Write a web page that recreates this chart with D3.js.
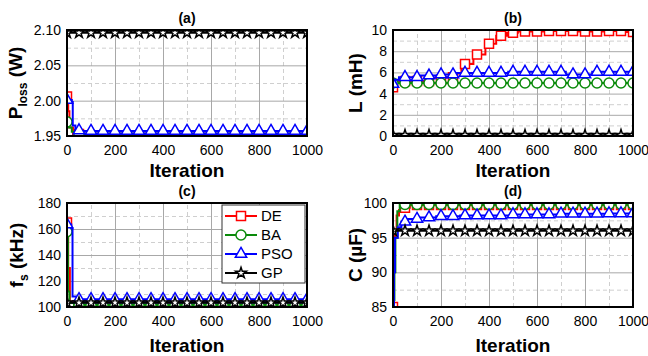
<!DOCTYPE html>
<html>
<head>
<meta charset="utf-8">
<script src="https://cdn.jsdelivr.net/npm/d3@7"></script>
<style>
  body { margin: 0; background: #fff; }
  svg { display: block; font-family: "Liberation Sans", Arial, sans-serif; }
</style>
</head>
<body>
<svg id="chart" width="648" height="356"></svg>
<script>
const WIDTH = 648;
const HEIGHT = 356;

const seriesNames = ["DE", "BA", "PSO", "GP"];
const iterTicks = [0, 200, 400, 600, 800, 1000];
const markerIters = d3.range(0, 1001, 50);

// (a) P_loss (W), breakpoints [iteration, value]
const plossTicks = [1.95, 2.0, 2.05, 2.1];
const plossDE = [[0, 2.006], [5, 1.985], [10, 1.962], [25, 1.953], [60, 1.951], [1000, 1.951]];
const plossBA = [[0, 1.97], [8, 1.962], [20, 1.956], [40, 1.953], [80, 1.952], [1000, 1.952]];
const plossPSO = [[0, 2.001], [20, 1.998], [24, 1.965], [35, 1.958], [60, 1.957], [1000, 1.957]];
const plossGP = [[0, 2.096], [1000, 2.096]];

// (b) L (mH)
const lTicks = [0, 2, 4, 6, 8, 10];
const lDE = [[0, 4.6], [15, 5.2], [160, 5.5], [185, 5.3], [215, 5.55], [265, 5.9], [285, 6.8],
  [335, 7.7], [385, 8.7], [430, 9.45], [475, 9.75], [520, 9.85], [640, 9.9], [760, 9.85],
  [900, 9.9], [960, 9.8], [1000, 9.8]];
const lBA = [[0, 5.0], [1000, 5.0]];
const lPSO = [[0, 4.9], [10, 5.3], [25, 5.55], [110, 5.7], [200, 5.8], [260, 5.95], [480, 6.05],
  [720, 5.8], [830, 6.05], [1000, 6.05]];
const lGP = [[0, 0.08], [1000, 0.08]];

// (c) f_s (kHz)
const fsTicks = [100, 120, 140, 160, 180];
const fsDE = [[0, 165], [5, 130], [12, 104], [30, 101.5], [1000, 101.5]];
const fsBA = [[0, 158], [4, 112], [10, 103], [30, 101.5], [1000, 101.5]];
const fsPSO = [[0, 163.5], [18, 160.5], [23, 108], [40, 106], [1000, 106]];
const fsGP = [[0, 103.3], [1000, 103.3]];

// (d) C (uF)
const cTicks = [85, 90, 95, 100];
const cDE = [[0, 85], [4, 92], [8, 96], [15, 98.2], [25, 99], [50, 99.3], [70, 99.7], [1000, 99.7]];
const cBA = [[0, 84], [3, 86], [6, 90], [10, 95], [18, 98.8], [28, 99.8], [1000, 99.8]];
const cPSO = [[0, 82], [4, 90], [8, 95], [20, 96.5], [35, 97.3], [60, 97.7], [110, 97.9],
  [180, 98.1], [280, 98.2], [500, 98.35], [700, 98.45], [900, 98.5], [1000, 98.5]];
const cGP = [[0, 96.0], [1000, 96.0]];

const colors = ["#ff0000", "#0a8a0a", "#0000ff", "#000000"];
const symbols = [d3.symbolSquare, d3.symbolCircle, d3.symbolTriangle, d3.symbolStar];
const symbolSizes = [81, 80, 56, 36];

const panels = [
  { title: "(a)", series: [plossDE, plossBA, plossPSO, plossGP], ticks: plossTicks, fmt: ".2f",
    label: [["P", 0], ["loss", 1], [" (W)", 0]],
    left: 67, right: 307, top: 30, bottom: 136, labelX: 22, xLabelY: 177 },
  { title: "(b)", series: [lDE, lBA, lPSO, lGP], ticks: lTicks, fmt: "d",
    label: [["L (mH)", 0]],
    left: 393, right: 633, top: 30, bottom: 136, labelX: 362, xLabelY: 177 },
  { title: "(c)", series: [fsDE, fsBA, fsPSO, fsGP], ticks: fsTicks, fmt: "d",
    label: [["f", 0], ["s", 1], [" (kHz)", 0]],
    left: 67, right: 307, top: 203, bottom: 307, labelX: 23, xLabelY: 352, legend: true },
  { title: "(d)", series: [cDE, cBA, cPSO, cGP], ticks: cTicks, fmt: "d",
    label: [["C (\u00b5F)", 0]],
    left: 393, right: 633, top: 203, bottom: 307, labelX: 362, xLabelY: 352 },
];

const svg = d3.select("#chart");
svg.append("rect").attr("width", WIDTH).attr("height", HEIGHT).attr("fill", "#fff");

const bisectIter = d3.bisector((d) => d[0]).right;
function valueAt(series, it) {
  const i = bisectIter(series, it) - 1;
  return series[Math.max(0, i)][1];
}

function styleGrid(g, color, dash) {
  g.select(".domain").remove();
  g.selectAll("line").attr("stroke", color).attr("stroke-width", 1).attr("stroke-dasharray", dash);
}

panels.forEach((p, pi) => {
  const x = d3.scaleLinear().domain([0, 1000]).range([p.left, p.right]);
  const y = d3.scaleLinear().domain(d3.extent(p.ticks)).range([p.bottom, p.top]);
  const w = p.right - p.left;
  const h = p.bottom - p.top;
  const g = svg.append("g");

  // minor dashed grid
  const xMinor = d3.pairs(iterTicks, (a, b) => (a + b) / 2);
  const yMinor = d3.pairs(p.ticks, (a, b) => (a + b) / 2);
  g.append("g")
    .attr("transform", `translate(0,${p.bottom})`)
    .call(d3.axisBottom(x).tickValues(xMinor).tickSize(-h).tickFormat(""))
    .call(styleGrid, "#cfcfcf", "4,3");
  g.append("g")
    .attr("transform", `translate(${p.left},0)`)
    .call(d3.axisLeft(y).tickValues(yMinor).tickSize(-w).tickFormat(""))
    .call(styleGrid, "#cfcfcf", "4,3");

  // major grid
  g.append("g")
    .attr("transform", `translate(0,${p.bottom})`)
    .call(d3.axisBottom(x).tickValues(iterTicks).tickSize(-h).tickFormat(""))
    .call(styleGrid, "#a8a8a8", null);
  g.append("g")
    .attr("transform", `translate(${p.left},0)`)
    .call(d3.axisLeft(y).tickValues(p.ticks).tickSize(-w).tickFormat(""))
    .call(styleGrid, "#a8a8a8", null);

  // series
  const clipId = `clip-${pi}`;
  svg.append("clipPath").attr("id", clipId)
    .append("rect").attr("x", p.left).attr("y", p.top).attr("width", w).attr("height", h);

  const plot = g.append("g").attr("clip-path", `url(#${clipId})`);
  const line = d3.line().x((d) => x(d[0])).y((d) => y(d[1])).curve(d3.curveStepAfter);

  p.series.forEach((s, si) => {
    plot.append("path")
      .attr("d", line(s))
      .attr("fill", "none")
      .attr("stroke", colors[si])
      .attr("stroke-width", 2);

    plot.selectAll(null)
      .data(markerIters)
      .enter()
      .append("path")
      .attr("d", d3.symbol(symbols[si], symbolSizes[si]))
      .attr("transform", (it) => `translate(${x(it)},${y(valueAt(s, it))})`)
      .attr("fill", "#fff")
      .attr("stroke", colors[si])
      .attr("stroke-width", 1.5);
  });

  // frame
  g.append("rect")
    .attr("x", p.left).attr("y", p.top).attr("width", w).attr("height", h)
    .attr("fill", "none").attr("stroke", "#000").attr("stroke-width", 2);

  // tick labels
  const xAxis = g.append("g")
    .attr("transform", `translate(0,${p.bottom})`)
    .call(d3.axisBottom(x).tickValues(iterTicks).tickSize(0).tickPadding(9).tickFormat(d3.format("d")));
  xAxis.select(".domain").remove();
  xAxis.selectAll("text").attr("font-size", 14).attr("font-family", null).attr("fill", "#000");

  const yAxis = g.append("g")
    .attr("transform", `translate(${p.left},0)`)
    .call(d3.axisLeft(y).tickValues(p.ticks).tickSize(0).tickPadding(6).tickFormat(d3.format(p.fmt)));
  yAxis.select(".domain").remove();
  yAxis.selectAll("text").attr("font-size", 14).attr("font-family", null).attr("fill", "#000");

  // title
  g.append("text")
    .attr("x", (p.left + p.right) / 2)
    .attr("y", p.top - 7)
    .attr("text-anchor", "middle")
    .attr("font-size", 14)
    .attr("font-weight", "bold")
    .text(p.title);

  // x label
  g.append("text")
    .attr("x", (p.left + p.right) / 2)
    .attr("y", p.xLabelY)
    .attr("text-anchor", "middle")
    .attr("font-size", 19)
    .attr("font-weight", "bold")
    .text("Iteration");

  // y label with subscripts
  const yl = g.append("text")
    .attr("transform", `translate(${p.labelX},${(p.top + p.bottom) / 2}) rotate(-90)`)
    .attr("text-anchor", "middle")
    .attr("font-size", 19)
    .attr("font-weight", "bold");
  p.label.forEach(([txt, sub], i) => {
    const prevSub = i > 0 && p.label[i - 1][1];
    yl.append("tspan")
      .attr("font-size", sub ? 12 : 19)
      .attr("dy", sub ? 5 : prevSub ? -5 : 0)
      .text(txt);
  });

  // legend
  if (p.legend) {
    const lg = g.append("g").attr("transform", "translate(222,205)");
    lg.append("rect")
      .attr("width", 83).attr("height", 78)
      .attr("fill", "#fff").attr("stroke", "#333").attr("stroke-width", 1);
    seriesNames.forEach((name, si) => {
      const ly = 11 + si * 19;
      lg.append("line")
        .attr("x1", 3).attr("x2", 35).attr("y1", ly).attr("y2", ly)
        .attr("stroke", colors[si]).attr("stroke-width", 2);
      lg.append("path")
        .attr("d", d3.symbol(symbols[si], symbolSizes[si]))
        .attr("transform", `translate(19,${ly})`)
        .attr("fill", "#fff").attr("stroke", colors[si]).attr("stroke-width", 1.5);
      lg.append("text")
        .attr("x", 39).attr("y", ly).attr("dy", "0.36em")
        .attr("font-size", 15)
        .text(name);
    });
  }
});
</script>
</body>
</html>
